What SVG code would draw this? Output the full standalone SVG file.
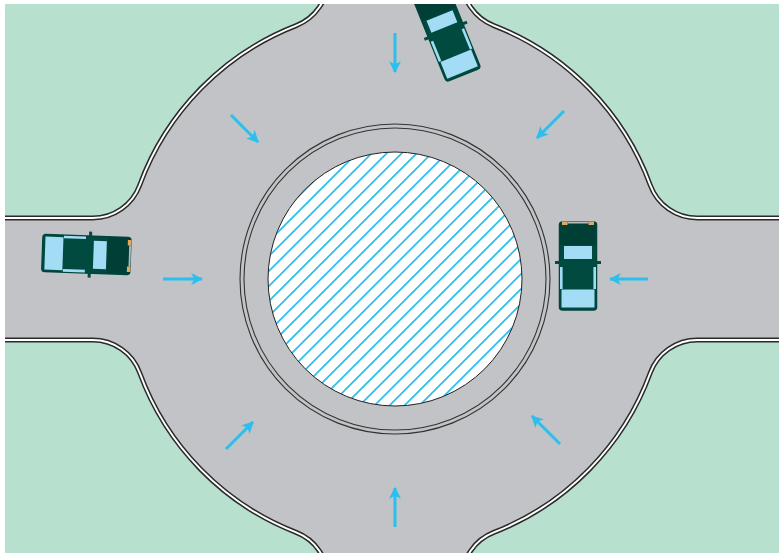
<svg xmlns="http://www.w3.org/2000/svg" width="779" height="553" viewBox="0 0 779 553">
  <defs>
    <style>
      .verge { fill: #b8e0cf; }
      .curb-dark { fill: none; stroke: #2a2a2a; stroke-width: 5; }
      .curb-light { fill: none; stroke: #ffffff; stroke-width: 2; }
      .ring { fill: none; stroke: #333333; stroke-width: 1.1; }
      .arrow { fill: none; stroke: #2bbfee; stroke-width: 3; marker-end: url(#head); }
      .glass { fill: #a3dcf5; }
      .body { fill: #004a40; stroke: #00443b; stroke-width: 1.5; }
    </style>
    <clipPath id="frame">
      <rect x="5" y="4" width="774" height="549"/>
    </clipPath>
    <marker id="head" viewBox="0 0 10 10" refX="9" refY="5" markerWidth="4" markerHeight="4" markerUnits="strokeWidth" orient="auto">
      <path d="M0,0 L10,5 L0,10 L2.5,5 Z" fill="#2bbfee"/>
    </marker>
    <pattern id="hatch" patternUnits="userSpaceOnUse" width="15" height="15">
      <path d="M0,15 L15,0 M-2,2 L2,-2 M13,17 L17,13" stroke="#2bbfee" stroke-width="1.7"/>
    </pattern>
    <!-- car seen from above, heading +x, centred on the origin -->
    <g id="car">
      <rect class="body" x="-44" y="-18.5" width="88" height="37" rx="3"/>
      <rect x="21" y="-17.8" width="22.3" height="35.6" fill="#003f36"/>
      <rect x="2" y="-23" width="3" height="46" fill="#004a40"/>
      <rect class="glass" x="7" y="-14" width="13" height="28"/>
      <rect class="glass" x="-23" y="-18" width="22" height="2.6"/>
      <rect class="glass" x="-23" y="15.4" width="22" height="2.6"/>
      <rect class="glass" x="-41.5" y="-16.5" width="18" height="33"/>
      <rect x="41" y="-16" width="3.5" height="5.5" fill="#e0a860"/>
      <rect x="41" y="10.5" width="3.5" height="5.5" fill="#e0a860"/>
      <rect x="42.5" y="-10.5" width="1.8" height="21" fill="#b9bbbd"/>
    </g>
  </defs>

  <rect width="779" height="553" fill="#ffffff"/>

  <g clip-path="url(#frame)">
    <!-- carriageway -->
    <rect id="road" x="5" y="4" width="774" height="549" fill="#c2c3c6"/>

    <!-- grass corners -->
    <g id="verges">
      <path class="verge" d="M5,218 L92.74,218 A50,50 0 0 0 139.68,185.24 A272,272 0 0 1 296.17,25.58 A50,50 0 0 0 328,-21 L5,-21 Z"/>
      <path class="verge" d="M779,218 L697.26,218 A50,50 0 0 1 650.32,185.24 A272,272 0 0 0 493.83,25.58 A50,50 0 0 1 462,-21 L779,-21 Z"/>
      <path class="verge" d="M5,340 L92.74,340 A50,50 0 0 1 139.68,372.76 A272,272 0 0 0 296.17,532.42 A50,50 0 0 1 328,579 L5,579 Z"/>
      <path class="verge" d="M779,340 L697.26,340 A50,50 0 0 0 650.32,372.76 A272,272 0 0 1 493.83,532.42 A50,50 0 0 0 462,579 L779,579 Z"/>
    </g>

    <!-- kerbs -->
    <g id="kerbs">
      <g class="curb-dark">
        <path d="M5,218 L92.74,218 A50,50 0 0 0 139.68,185.24 A272,272 0 0 1 296.17,25.58 A50,50 0 0 0 328,-21"/>
        <path d="M779,218 L697.26,218 A50,50 0 0 1 650.32,185.24 A272,272 0 0 0 493.83,25.58 A50,50 0 0 1 462,-21"/>
        <path d="M5,340 L92.74,340 A50,50 0 0 1 139.68,372.76 A272,272 0 0 0 296.17,532.42 A50,50 0 0 1 328,579"/>
        <path d="M779,340 L697.26,340 A50,50 0 0 0 650.32,372.76 A272,272 0 0 1 493.83,532.42 A50,50 0 0 0 462,579"/>
      </g>
      <g class="curb-light">
        <path d="M5,218 L92.74,218 A50,50 0 0 0 139.68,185.24 A272,272 0 0 1 296.17,25.58 A50,50 0 0 0 328,-21"/>
        <path d="M779,218 L697.26,218 A50,50 0 0 1 650.32,185.24 A272,272 0 0 0 493.83,25.58 A50,50 0 0 1 462,-21"/>
        <path d="M5,340 L92.74,340 A50,50 0 0 1 139.68,372.76 A272,272 0 0 0 296.17,532.42 A50,50 0 0 1 328,579"/>
        <path d="M779,340 L697.26,340 A50,50 0 0 0 650.32,372.76 A272,272 0 0 1 493.83,532.42 A50,50 0 0 0 462,579"/>
      </g>
    </g>

    <!-- central island -->
    <g id="island">
      <circle class="ring" cx="395" cy="279" r="155"/>
      <circle class="ring" cx="395" cy="279" r="151"/>
      <circle cx="395" cy="279" r="127" fill="#ffffff"/>
      <circle cx="395" cy="279" r="127" fill="url(#hatch)" stroke="#222222" stroke-width="1"/>
    </g>

    <!-- traffic direction arrows -->
    <g id="arrows">
      <path class="arrow" d="M395,33 L395,72"/>
      <path class="arrow" d="M395,527 L395,488"/>
      <path class="arrow" d="M163,279 L202,279"/>
      <path class="arrow" d="M648,279 L610,279"/>
      <path class="arrow" d="M231,115 L258,142"/>
      <path class="arrow" d="M564,111 L537,138"/>
      <path class="arrow" d="M226,449 L253,422"/>
      <path class="arrow" d="M560,444 L532,416"/>
    </g>

    <!-- vehicles -->
    <g id="car-west"><use href="#car" transform="translate(86.4,254.5) rotate(2)"/></g>
    <g id="car-east"><use href="#car" transform="translate(578,266) rotate(-90)"/></g>
    <g id="car-north"><use href="#car" transform="translate(447,34) rotate(-112)"/></g>
  </g>
</svg>
